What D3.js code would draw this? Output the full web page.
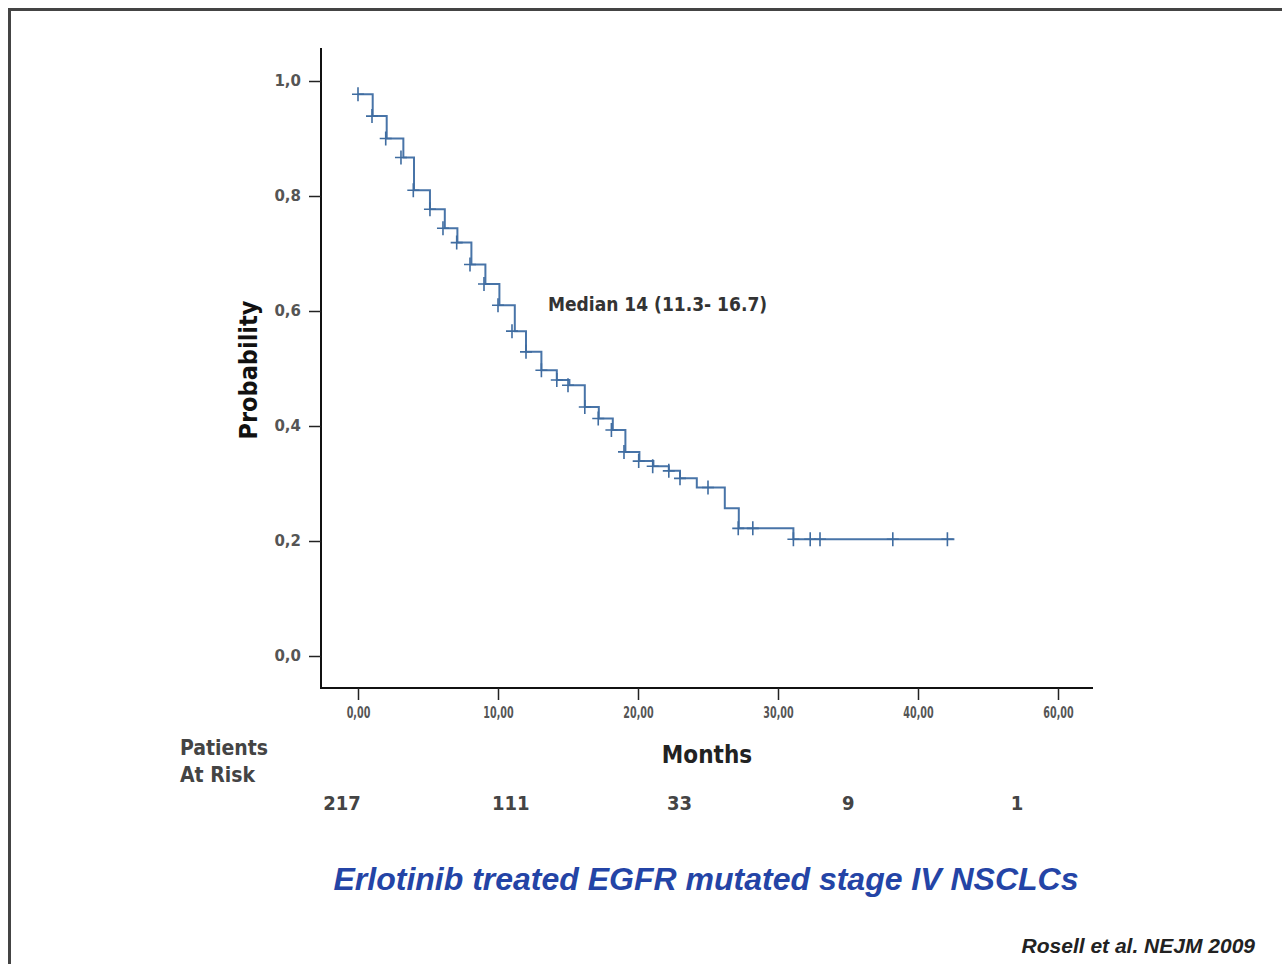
<!DOCTYPE html>
<html>
<head>
<meta charset="utf-8">
<script src="https://cdn.jsdelivr.net/npm/d3@7"></script>
<style>
  html, body { margin: 0; padding: 0; background: #fff; }
  svg { display: block; }
</style>
</head>
<body>
<svg id="chart" width="1282" height="964"></svg>
<script>
// ---- data ----
const stepTimes    = [0, 1.05, 2.05, 3.24, 4.0, 5.14, 6.2, 7.1, 8.1, 9.1, 10.1, 11.2, 12.0, 13.1, 14.2, 15.1, 16.2, 17.2, 18.2, 19.1, 20.1, 21.1, 22.2, 23.0, 24.2, 26.2, 27.2, 31.1];
const stepSurvival = [0.977, 0.939, 0.900, 0.867, 0.810, 0.777, 0.744, 0.719, 0.681, 0.647, 0.610, 0.565, 0.529, 0.497, 0.480, 0.471, 0.433, 0.413, 0.393, 0.355, 0.339, 0.330, 0.322, 0.309, 0.293, 0.257, 0.222, 0.203];
const lastTime = 42.6;
const censorTimes  = [0, 1.0, 1.98, 3.07, 3.95, 5.14, 6.07, 7.05, 8.0, 9.0, 10.0, 11.0, 12.0, 13.1, 14.2, 15.0, 16.2, 17.16, 18.1, 19.0, 20.05, 21.05, 22.2, 23.0, 25.0, 27.16, 28.2, 31.1, 32.3, 33.0, 38.2, 42.1];
const xTickValues = [0, 10, 20, 30, 40, 50];
const xTickLabels = ["0,00", "10,00", "20,00", "30,00", "40,00", "60,00"];
const yTickValues = [0, 0.2, 0.4, 0.6, 0.8, 1.0];
const yTickLabels = ["0,0", "0,2", "0,4", "0,6", "0,8", "1,0"];
const atRiskCounts = ["217", "111", "33", "9", "1"];
const medianLabel = "Median  14 (11.3- 16.7)";
const titleText = "Erlotinib treated EGFR mutated stage IV NSCLCs";
const citation = "Rosell et al. NEJM 2009";

// ---- layout ----
const svg = d3.select("#chart");
const cond = "'Liberation Sans Narrow', 'Arial Narrow', 'DejaVu Sans Condensed', sans-serif";
const dv = "'DejaVu Sans', sans-serif";
const lib = "'Liberation Sans', Arial, sans-serif";

// frame
svg.append("rect").attr("x", 9.5).attr("y", 9.5).attr("width", 1300).attr("height", 1000)
  .attr("fill", "none").attr("stroke", "#444").attr("stroke-width", 3);

const x = d3.scaleLinear().domain([0, 50]).range([358, 1058]);
const y = d3.scaleLinear().domain([0, 1]).range([656, 81]);

// axis lines
svg.append("line").attr("x1", 321).attr("x2", 321).attr("y1", 48).attr("y2", 688)
  .attr("stroke", "#111").attr("stroke-width", 2);
svg.append("line").attr("x1", 320).attr("x2", 1093).attr("y1", 688).attr("y2", 688)
  .attr("stroke", "#111").attr("stroke-width", 2);

// y axis
const yAxis = d3.axisLeft(y).tickValues(yTickValues).tickSize(12).tickPadding(8)
  .tickFormat((d, i) => yTickLabels[i]);
const gy = svg.append("g").attr("transform", "translate(321,0)").call(yAxis);
gy.select(".domain").remove();
gy.selectAll(".tick line").attr("stroke", "#222").attr("stroke-width", 1.5);
gy.selectAll(".tick text").attr("font-family", dv).attr("font-size", 15)
  .attr("font-weight", "bold").attr("fill", "#555");

// x axis
const xAxis = d3.axisBottom(x).tickValues(xTickValues).tickSize(12).tickPadding(7)
  .tickFormat((d, i) => xTickLabels[i]);
const gx = svg.append("g").attr("transform", "translate(0,688)").call(xAxis);
gx.select(".domain").remove();
gx.selectAll(".tick line").attr("stroke", "#222").attr("stroke-width", 1.5);
gx.selectAll(".tick text").attr("font-family", dv).attr("font-size", 16)
  .attr("font-weight", "bold").attr("fill", "#555").attr("transform", "scale(0.6,1)");

// axis titles
svg.append("text").attr("transform", "translate(257,370) rotate(-90)")
  .attr("text-anchor", "middle").attr("font-family", cond).attr("font-weight", "bold")
  .attr("font-size", 25).attr("fill", "#111").text("Probability");
svg.append("text").attr("x", 707).attr("y", 763).attr("text-anchor", "middle")
  .attr("font-family", cond).attr("font-weight", "bold").attr("font-size", 24)
  .attr("fill", "#222").text("Months");

// KM step curve
const pts = stepTimes.map((t, i) => [t, stepSurvival[i]]);
pts.push([lastTime, stepSurvival[stepSurvival.length - 1]]);
const line = d3.line().x(d => x(d[0])).y(d => y(d[1])).curve(d3.curveStepAfter);
svg.append("path").datum(pts).attr("d", line).attr("fill", "none")
  .attr("stroke", "#4874a8").attr("stroke-width", 2);

// survival just after time t (censor marks sit on the lower level at a drop)
function survAt(t) {
  let s = stepSurvival[0];
  for (let i = 0; i < stepTimes.length; i++) if (stepTimes[i] <= t + 0.25) s = stepSurvival[i];
  return s;
}
svg.append("g").selectAll("path.cens").data(censorTimes).join("path")
  .attr("class", "cens")
  .attr("d", t => {
    const cx = x(t), cy = y(survAt(t));
    return `M${cx - 6},${cy}H${cx + 6}M${cx},${cy - 7}V${cy + 7}`;
  })
  .attr("stroke", "#3f6ca0").attr("stroke-width", 1.6).attr("fill", "none");

// median annotation
svg.append("text").attr("x", 548).attr("y", 311).attr("font-family", cond)
  .attr("font-weight", "bold").attr("font-size", 19).attr("fill", "#333").text(medianLabel);

// patients at risk
svg.append("text").attr("x", 180).attr("y", 755).attr("font-family", cond)
  .attr("font-weight", "bold").attr("font-size", 21).attr("fill", "#444").text("Patients");
svg.append("text").attr("x", 180).attr("y", 782).attr("font-family", cond)
  .attr("font-weight", "bold").attr("font-size", 21).attr("fill", "#444").text("At Risk");
const riskX = d3.scalePoint().domain(atRiskCounts.map((d, i) => i)).range([342, 1017]);
svg.append("g").selectAll("text").data(atRiskCounts).join("text")
  .attr("x", (d, i) => riskX(i)).attr("y", 810).attr("text-anchor", "middle")
  .attr("font-family", cond).attr("font-weight", "bold").attr("font-size", 20)
  .attr("fill", "#444").text(d => d);

// title
svg.append("text").attr("x", 706).attr("y", 890).attr("text-anchor", "middle")
  .attr("font-family", lib).attr("font-style", "italic")
  .attr("font-weight", "bold").attr("font-size", 32).attr("fill", "#2444a6").text(titleText);

// citation
svg.append("text").attr("x", 1255).attr("y", 953).attr("text-anchor", "end")
  .attr("font-family", lib).attr("font-style", "italic")
  .attr("font-weight", "bold").attr("font-size", 21).attr("fill", "#222").text(citation);
</script>
</body>
</html>
